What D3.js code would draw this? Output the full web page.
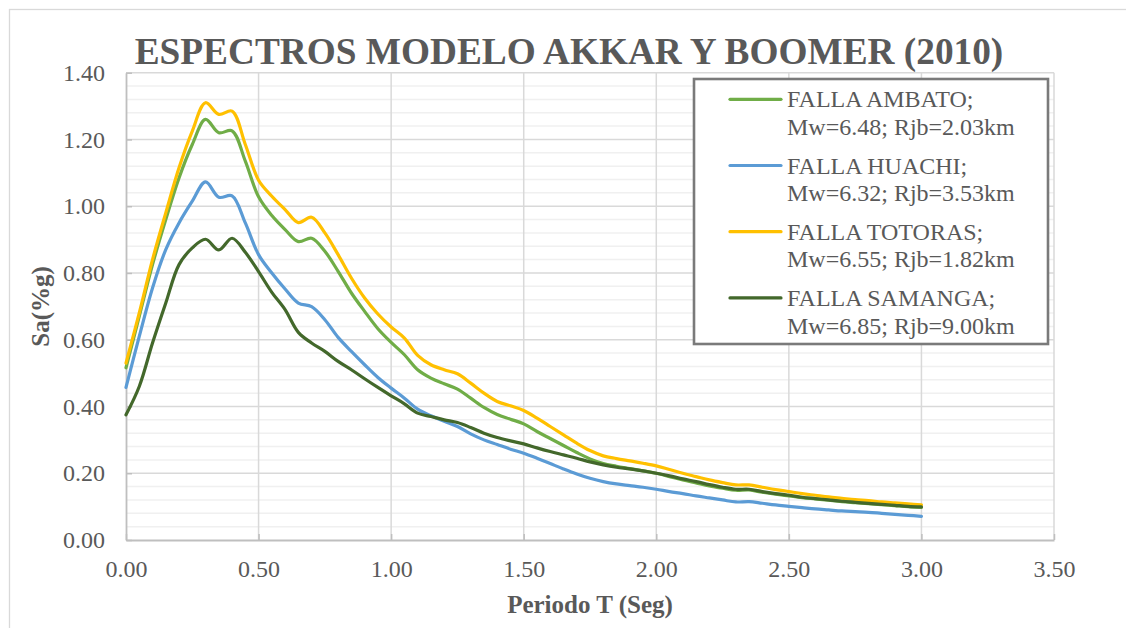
<!DOCTYPE html>
<html>
<head>
<meta charset="utf-8">
<script src="https://cdn.jsdelivr.net/npm/d3@7"></script>
<style>
  html, body { margin: 0; padding: 0; background: #ffffff; }
  svg { display: block; }
  text { font-family: "Liberation Serif", "Times New Roman", serif; fill: #595959; }
</style>
</head>
<body>
<svg id="chart" width="1126" height="628"></svg>
<script>
// Spectral periods T (s)
const periods = d3.range(0, 61).map(i => +(i * 0.05).toFixed(2));

// Sa (g) per fault scenario
const ambato = [0.516,0.67,0.825,0.96,1.085,1.185,1.26,1.22,1.226,1.135,1.028,0.972,0.93,0.894,0.904,0.865,0.805,0.74,0.685,0.633,0.592,0.555,0.51,0.485,0.468,0.452,0.425,0.397,0.376,0.362,0.348,0.325,0.304,0.283,0.262,0.243,0.229,0.221,0.214,0.207,0.2,0.19,0.18,0.171,0.162,0.155,0.149,0.15,0.143,0.137,0.132,0.127,0.123,0.119,0.115,0.112,0.109,0.106,0.103,0.1,0.098];
const huachi = [0.457,0.61,0.755,0.87,0.95,1.015,1.073,1.027,1.031,0.95,0.855,0.8,0.752,0.71,0.699,0.66,0.607,0.565,0.525,0.487,0.455,0.425,0.392,0.372,0.356,0.34,0.318,0.3,0.286,0.272,0.26,0.245,0.229,0.213,0.198,0.185,0.175,0.168,0.163,0.158,0.152,0.145,0.139,0.132,0.126,0.12,0.114,0.115,0.11,0.105,0.101,0.097,0.093,0.09,0.087,0.085,0.083,0.08,0.077,0.074,0.071];
const totoras = [0.53,0.68,0.84,0.98,1.115,1.225,1.31,1.275,1.285,1.185,1.078,1.03,0.99,0.951,0.967,0.92,0.855,0.785,0.725,0.677,0.638,0.605,0.553,0.525,0.51,0.498,0.47,0.44,0.415,0.402,0.388,0.365,0.34,0.315,0.29,0.268,0.252,0.244,0.237,0.23,0.222,0.211,0.2,0.19,0.18,0.172,0.165,0.165,0.158,0.151,0.145,0.139,0.134,0.129,0.125,0.121,0.118,0.114,0.111,0.108,0.105];
const samanga = [0.375,0.46,0.59,0.71,0.825,0.875,0.901,0.869,0.904,0.862,0.804,0.742,0.69,0.622,0.59,0.565,0.535,0.51,0.483,0.457,0.432,0.408,0.38,0.37,0.36,0.352,0.337,0.32,0.307,0.297,0.288,0.276,0.265,0.255,0.245,0.234,0.225,0.218,0.213,0.207,0.2,0.192,0.183,0.175,0.166,0.158,0.152,0.152,0.145,0.139,0.134,0.128,0.124,0.12,0.116,0.113,0.11,0.107,0.104,0.101,0.099];

const seriesNames = [
  ["FALLA AMBATO;", "Mw=6.48; Rjb=2.03km"],
  ["FALLA HUACHI;", "Mw=6.32; Rjb=3.53km"],
  ["FALLA TOTORAS;", "Mw=6.55; Rjb=1.82km"],
  ["FALLA SAMANGA;", "Mw=6.85; Rjb=9.00km"]
];
const seriesValues = [ambato, huachi, totoras, samanga];
const seriesColors = ["#70AD47", "#5B9BD5", "#FFC000", "#43682B"];

const xTicks = [0, 0.5, 1, 1.5, 2, 2.5, 3, 3.5];
const yTicks = [0, 0.2, 0.4, 0.6, 0.8, 1.0, 1.2, 1.4];
const yMinorTicks = d3.range(0, 36).map(i => +(i * 0.04).toFixed(2)).filter(v => Math.abs(v / 0.2 - Math.round(v / 0.2)) > 1e-6);

const titleText = "ESPECTROS MODELO AKKAR Y BOOMER (2010)";
const xTitle = "Periodo T (Seg)";
const yTitle = "Sa(%g)";

const svg = d3.select("#chart");
const plot = { left: 126, right: 1054, top: 72.7, bottom: 540 };

const x = d3.scaleLinear().domain([0, 3.5]).range([plot.left, plot.right]);
const y = d3.scaleLinear().domain([0, 1.4]).range([plot.bottom, plot.top]);

// chart area frame
svg.append("rect")
  .attr("x", 9.5).attr("y", 9.5).attr("width", 1300).attr("height", 800)
  .attr("fill", "#ffffff").attr("stroke", "#d9d9d9").attr("stroke-width", 1.3);

// minor horizontal gridlines
svg.append("g").selectAll("line").data(yMinorTicks).join("line")
  .attr("x1", plot.left).attr("x2", plot.right)
  .attr("y1", d => y(d)).attr("y2", d => y(d))
  .attr("stroke", "#f0f0f0").attr("stroke-width", 1.5);

// major horizontal gridlines
svg.append("g").selectAll("line").data(yTicks.filter(d => d > 0)).join("line")
  .attr("x1", plot.left).attr("x2", plot.right)
  .attr("y1", d => y(d)).attr("y2", d => y(d))
  .attr("stroke", "#d9d9d9").attr("stroke-width", 1.5);

// vertical gridlines
svg.append("g").selectAll("line").data(xTicks.filter(d => d > 0)).join("line")
  .attr("x1", d => x(d)).attr("x2", d => x(d))
  .attr("y1", plot.top).attr("y2", plot.bottom)
  .attr("stroke", "#d9d9d9").attr("stroke-width", 1.5);

// x axis
const xAxis = d3.axisBottom(x).tickValues(xTicks).tickFormat(d3.format(".2f")).tickSizeInner(-6).tickSizeOuter(0).tickPadding(26);
const gx = svg.append("g").attr("transform", `translate(0,${plot.bottom})`).call(xAxis);
gx.select(".domain").attr("stroke", "#bfbfbf").attr("stroke-width", 1.8);
gx.selectAll(".tick line").attr("stroke", "#bfbfbf").attr("stroke-width", 1.5);
gx.selectAll(".tick text").attr("font-size", "24px").attr("fill", "#595959")
  .attr("font-family", "Liberation Serif, serif").attr("dy", 0).attr("y", 37);

// y axis
const yAxis = d3.axisLeft(y).tickValues(yTicks).tickFormat(d3.format(".2f")).tickSizeInner(-6).tickSizeOuter(0).tickPadding(21);
const gy = svg.append("g").attr("transform", `translate(${plot.left},0)`).call(yAxis);
gy.select(".domain").attr("stroke", "#bfbfbf").attr("stroke-width", 1.8);
gy.selectAll(".tick line").attr("stroke", "#bfbfbf").attr("stroke-width", 1.5);
gy.selectAll(".tick text").attr("font-size", "24px").attr("fill", "#595959")
  .attr("font-family", "Liberation Serif, serif").attr("dy", "0.32em");

// spectra
const line = d3.line()
  .x(d => x(d[0])).y(d => y(d[1]))
  .curve(d3.curveCatmullRom.alpha(0.5));

svg.append("g").selectAll("path").data(seriesValues).join("path")
  .attr("d", vals => line(vals.map((v, i) => [periods[i], v])))
  .attr("fill", "none")
  .attr("stroke", (d, i) => seriesColors[i])
  .attr("stroke-width", 3.2)
  .attr("stroke-linejoin", "round")
  .attr("stroke-linecap", "round");

// title
svg.append("text")
  .attr("x", 569).attr("y", 64).attr("text-anchor", "middle")
  .attr("font-size", "37.3px").attr("font-weight", "bold")
  .text(titleText);

// axis titles
svg.append("text")
  .attr("x", (plot.left + plot.right) / 2).attr("y", 613).attr("text-anchor", "middle")
  .attr("font-size", "25px").attr("font-weight", "bold")
  .text(xTitle);

svg.append("text")
  .attr("transform", `translate(49,${(plot.top + plot.bottom) / 2}) rotate(-90)`)
  .attr("text-anchor", "middle")
  .attr("font-size", "25px").attr("font-weight", "bold")
  .text(yTitle);

// legend
const legend = svg.append("g");
legend.append("rect")
  .attr("x", 694).attr("y", 79).attr("width", 354).attr("height", 265)
  .attr("fill", "#ffffff").attr("stroke", "#7a7a7a").attr("stroke-width", 2.6);

const entries = legend.selectAll("g.entry").data(seriesNames).join("g")
  .attr("class", "entry")
  .attr("transform", (d, i) => `translate(0,${107.3 + i * 66.2})`);

entries.append("line")
  .attr("x1", 730).attr("x2", 781).attr("y1", -8).attr("y2", -8)
  .attr("stroke", (d, i) => seriesColors[i]).attr("stroke-width", 3.2)
  .attr("stroke-linecap", "round");

entries.append("text")
  .attr("x", 787).attr("y", 0).attr("font-size", "24px")
  .text(d => d[0]);
entries.append("text")
  .attr("x", 787).attr("y", 27.7).attr("font-size", "24px")
  .text(d => d[1]);
</script>
</body>
</html>
